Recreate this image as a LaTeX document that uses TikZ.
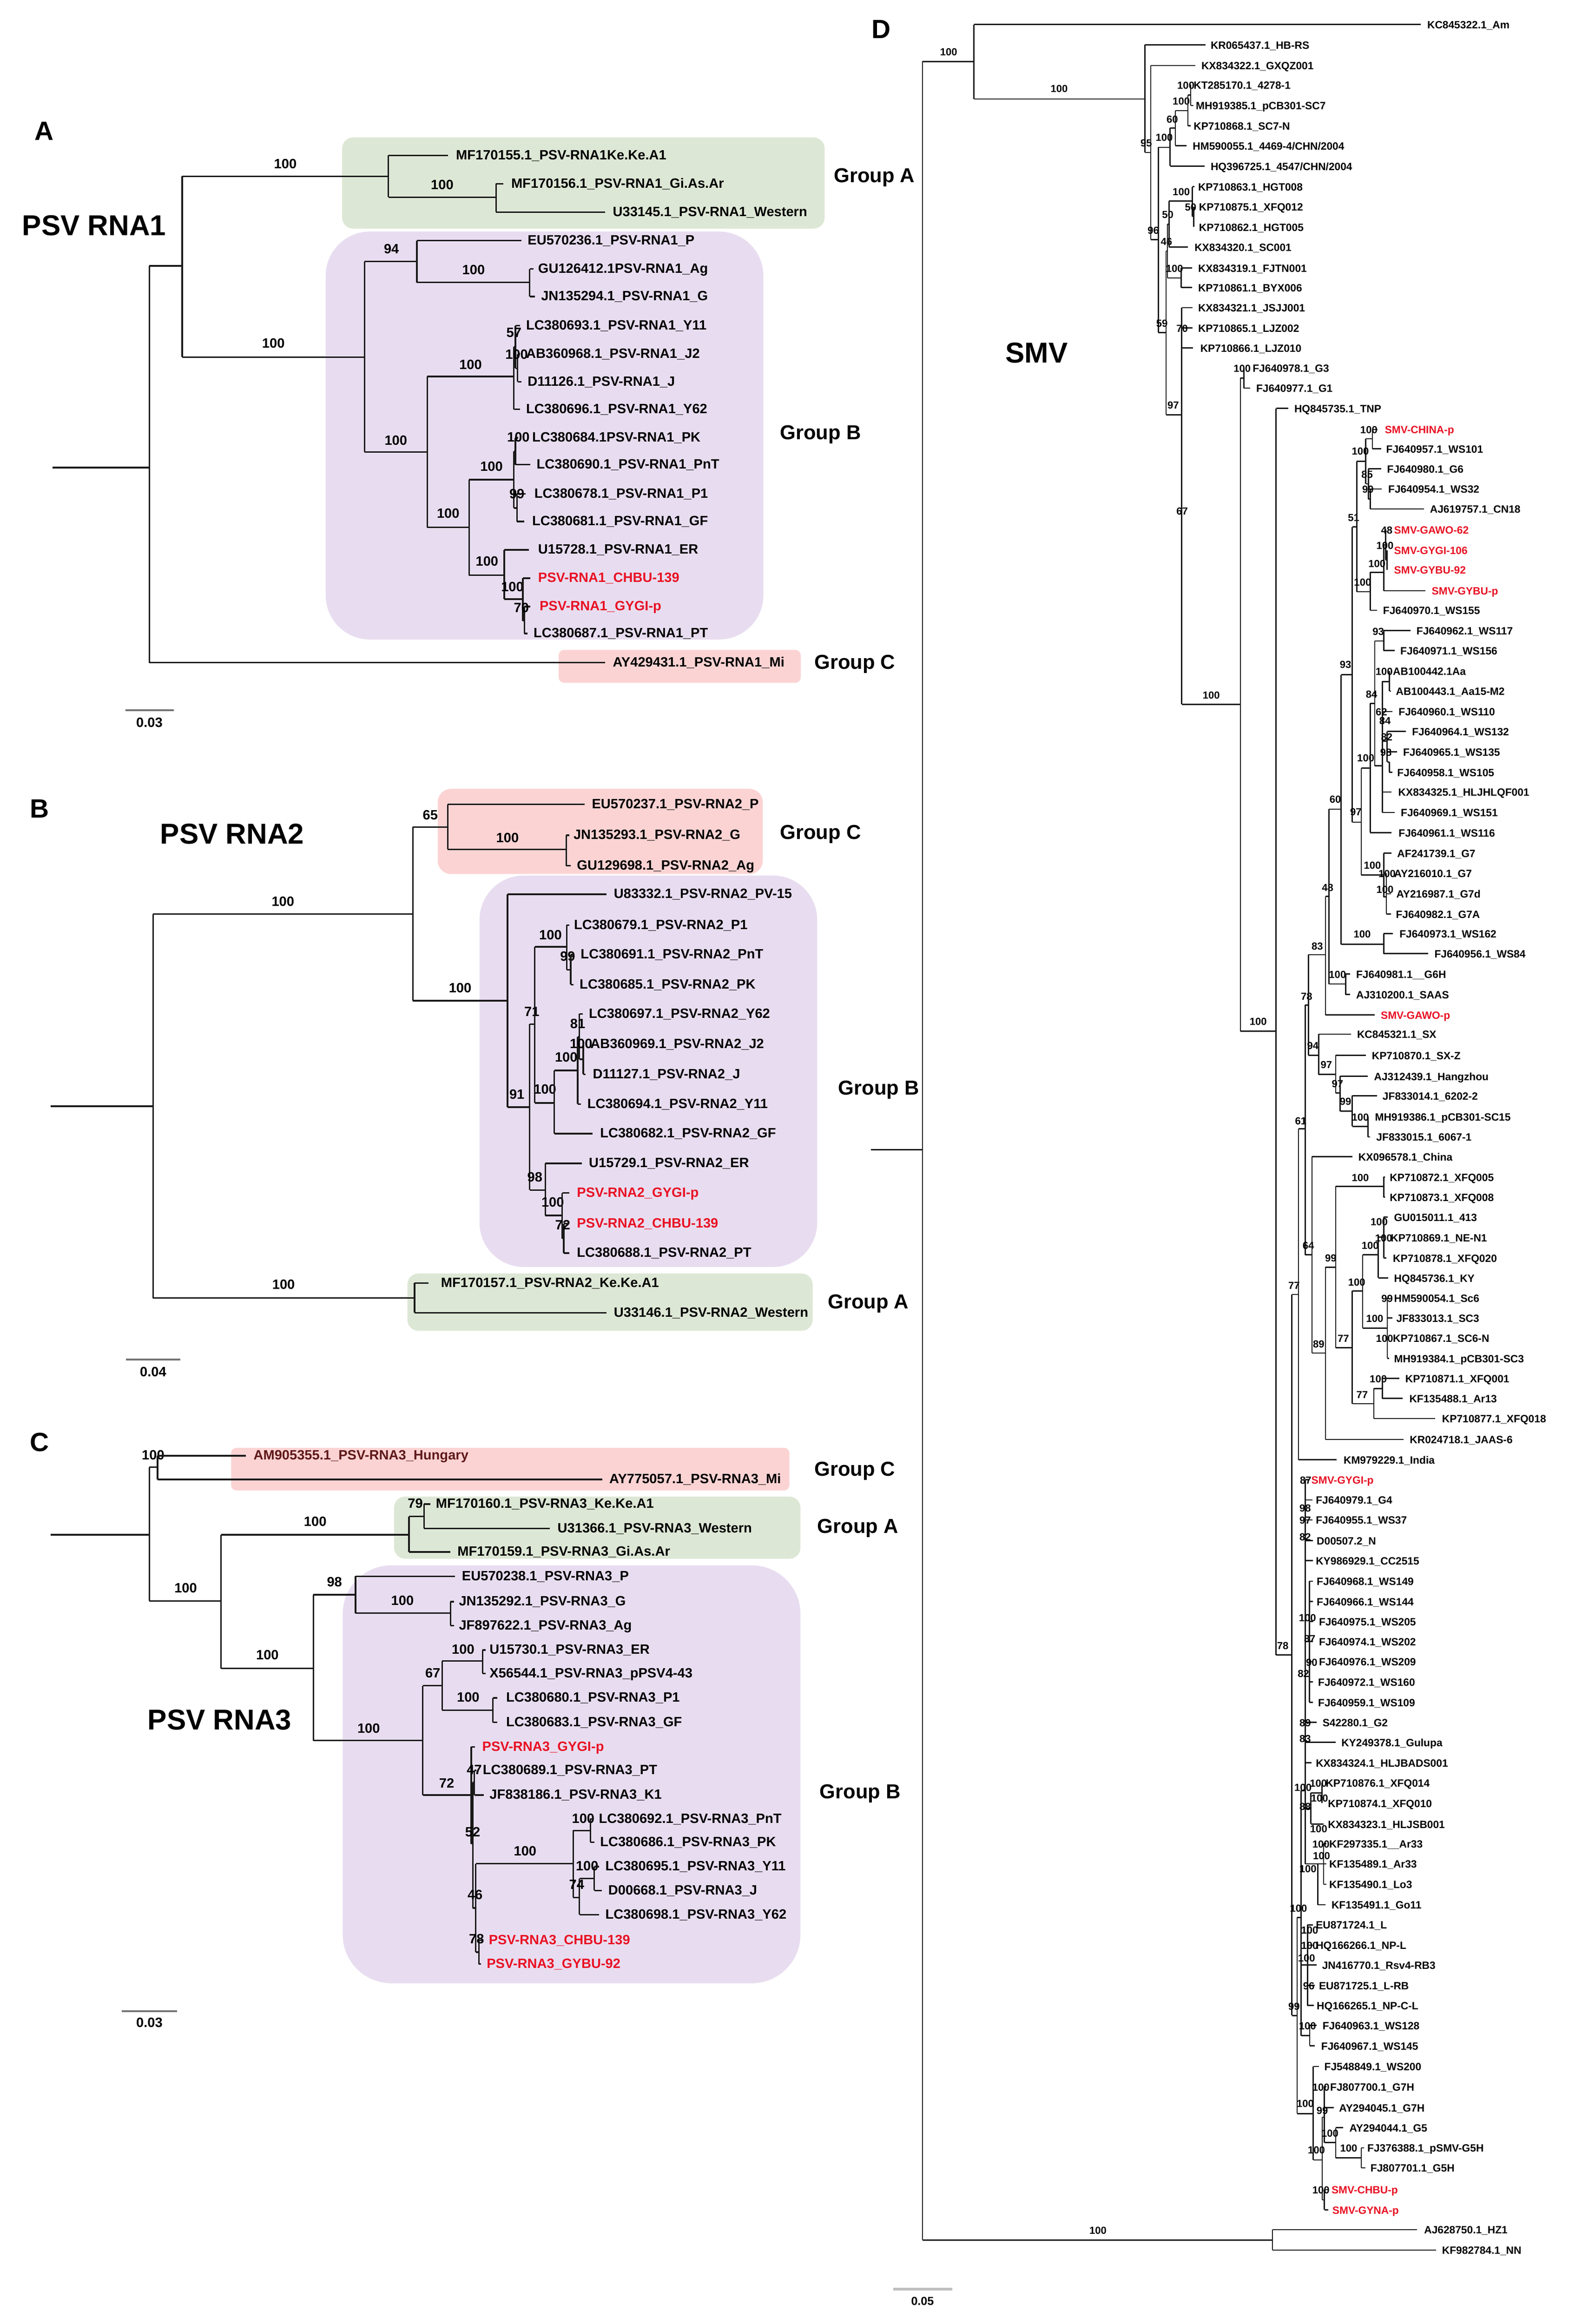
\documentclass[tikz,border=0pt]{standalone}
\usepackage{fontspec}
\setmainfont{Liberation Sans}
\definecolor{tred}{RGB}{232,18,36}
\definecolor{gbox}{RGB}{221,231,213}
\definecolor{pbox}{RGB}{232,221,240}
\definecolor{rbox}{RGB}{252,211,211}
\definecolor{lnc}{RGB}{25,25,25}
\newcounter{lfc}
\newcommand{\Vl}[3]{\draw[br] (#1,#2) -- (#1,#3);}
\newcommand{\Hl}[3]{\draw[br] (#1,#3) -- (#2,#3);}
\newcommand{\Lf}[6][]{\draw[br] (#2,#4) -- (#3,#4);\stepcounter{lfc}\node[lab,#1] (t\arabic{lfc}) at (#5,#4) {#6};}
\newcommand{\Tx}[4][]{\stepcounter{lfc}\node[lab,#1] (t\arabic{lfc}) at (#2,#3) {#4};}
\newcommand{\Bs}[3]{\stepcounter{lfc}\node[bsl] (b\arabic{lfc}) at (#1,#2) {#3};}
\begin{document}
\begin{tikzpicture}[x=0.03379cm,y=-0.03379cm,
  br/.style={line width=1pt,draw=lnc},
  lab/.style={inner sep=0pt,anchor=mid west,font=\fontsize{8.7}{10}\selectfont\bfseries},
  bsl/.style={inner sep=0pt,anchor=mid,font=\fontsize{8.7}{10}\selectfont\bfseries},
  plet/.style={inner sep=0pt,anchor=mid,font=\fontsize{17}{20}\selectfont\bfseries},
  ttl/.style={inner sep=0pt,anchor=mid,font=\fontsize{18.5}{22}\selectfont\bfseries},
  grp/.style={inner sep=0pt,anchor=mid west,font=\fontsize{13}{15}\selectfont\bfseries},
  sbar/.style={line width=1.2pt,draw=black!55},
  scl/.style={inner sep=0pt,anchor=mid,font=\fontsize{8.7}{10}\selectfont\bfseries}]
\fill[white] (0,0) rectangle (1050,1555.5);
\useasboundingbox (0,0) rectangle (1050,1555.5);
% ================= PANEL A =================
\begin{scope}
\fill[gbox,rounded corners=0.25cm] (229,92) rectangle (552,153);
\fill[pbox,rounded corners=1cm] (218,155) rectangle (511,428);
\fill[rbox,rounded corners=0.12cm] (374,435) rectangle (536,457);
\node[plet] (pA) at (29.6,91) {A};
\node[ttl] (tA) at (63,154.7) {PSV RNA1};
\node[grp] (gA1) at (558,119.5) {Group A};
\node[grp] (gA2) at (522,291.5) {Group B};
\node[grp] (gA3) at (545,445) {Group C};
\Hl{35}{100}{313}
\Vl{100}{178}{443.5}
\Hl{100}{122}{178}
\Vl{122}{118}{239}
\Hl{122}{260}{118} \Bs{191}{110}{100}
\Vl{260}{104}{132}
\Lf{260}{300}{104}{305}{MF170155.1\_PSV-RNA1Ke.Ke.A1}
\Hl{260}{332}{132} \Bs{296}{124}{100}
\Vl{332}{123}{142}
\Lf{332}{337}{123}{342}{MF170156.1\_PSV-RNA1\_Gi.As.Ar}
\Lf{332}{405}{142}{410}{U33145.1\_PSV-RNA1\_Western}
\Hl{122}{244}{239} \Bs{183}{230}{100}
\Vl{244}{175}{302.5}
\Hl{244}{279}{175} \Bs{262}{167}{94}
\Vl{279}{161}{189}
\Lf{279}{349}{161}{353}{EU570236.1\_PSV-RNA1\_P}
\Hl{279}{354.5}{189} \Bs{317}{181}{100}
\Vl{354.5}{180}{198.5}
\Lf{354.5}{357}{180}{360}{GU126412.1PSV-RNA1\_Ag}
\Lf{354.5}{358}{198.5}{362}{JN135294.1\_PSV-RNA1\_G}
\Hl{244}{286}{302.5} \Bs{265}{295}{100}
\Vl{286}{252}{353}
\Hl{286}{344}{252} \Bs{315}{244.5}{100}
\Vl{344}{232}{274}
\Hl{344}{345}{232}
\Vl{345}{218}{246.5}
\Hl{345}{346.5}{246.5}
\Vl{346.5}{237}{255.5}
\Lf{345}{348}{218}{352}{LC380693.1\_PSV-RNA1\_Y11} \Bs{344}{223}{57}
\Lf{346.5}{348}{237}{352}{AB360968.1\_PSV-RNA1\_J2} \Bs{345.8}{237.5}{100}
\Lf{346.5}{349}{255.5}{353}{D11126.1\_PSV-RNA1\_J}
\Lf{344}{348}{274}{352}{LC380696.1\_PSV-RNA1\_Y62}
\Hl{286}{314}{353} \Bs{300}{344}{100}
\Vl{314}{321}{385}
\Hl{314}{344}{321} \Bs{329}{312.7}{100}
\Vl{344}{302}{340}
\Hl{344}{345}{302}
\Vl{345}{293}{311}
\Lf{345}{347}{293}{356}{LC380684.1PSV-RNA1\_PK} \Bs{347}{293}{100}
\Lf{345}{355}{311}{359}{LC380690.1\_PSV-RNA1\_PnT}
\Hl{344}{346}{340}
\Vl{346}{330.5}{349}
\Lf{346}{352}{330.5}{357.5}{LC380678.1\_PSV-RNA1\_P1} \Bs{346}{331}{99}
\Lf{346}{351}{349}{356}{LC380681.1\_PSV-RNA1\_GF}
\Hl{314}{337.5}{385} \Bs{326}{376}{100}
\Vl{337.5}{368}{401}
\Lf{337.5}{354}{368}{360}{U15728.1\_PSV-RNA1\_ER}
\Hl{337.5}{350}{401} \Bs{343}{393}{100}
\Vl{350}{387}{415.5}
\Lf[text=tred]{350}{355}{387}{360}{PSV-RNA1\_CHBU-139}
\Hl{350}{351}{415.5}
\Vl{351}{406}{424}
\Lf[text=tred]{351}{355}{406}{361}{PSV-RNA1\_GYGI-p} \Bs{349}{407}{70}
\Lf{351}{353}{424}{357}{LC380687.1\_PSV-RNA1\_PT}
\Lf{100}{405}{443.5}{410}{AY429431.1\_PSV-RNA1\_Mi}
\draw[sbar] (84,475.5) -- (116.5,475.5);
\node[scl] (sA) at (100,484) {0.03};
\end{scope}
% ================= PANEL B =================
\begin{scope}
\fill[rbox,rounded corners=0.3cm] (293,528) rectangle (510.6,585);
\fill[pbox,rounded corners=1cm] (321,586) rectangle (547,848);
\fill[gbox,rounded corners=0.25cm] (272.7,852.4) rectangle (544,890.7);
\node[plet] (pB) at (26.6,544.5) {B};
\node[ttl] (tB) at (155.4,562) {PSV RNA2};
\node[grp] (gB1) at (522,559) {Group C};
\node[grp] (gB2) at (561,730) {Group B};
\node[grp] (gB3) at (554,873) {Group A};
\Hl{34}{102.5}{740.4}
\Vl{102.5}{611.8}{868.8}
\Hl{102.5}{276.4}{611.8} \Bs{189.4}{603.6}{100}
\Vl{276.4}{553.5}{669.8}
\Hl{276.4}{299.7}{553.5} \Bs{288}{546}{65}
\Vl{299.7}{538.4}{568.5}
\Lf{299.7}{391.5}{538.4}{396}{EU570237.1\_PSV-RNA2\_P}
\Hl{299.7}{379}{568.5} \Bs{339.7}{561}{100}
\Vl{379}{559}{579.5}
\Lf{379}{381}{559}{383.7}{JN135293.1\_PSV-RNA2\_G}
\Lf{379}{382}{579.5}{386}{GU129698.1\_PSV-RNA2\_Ag}
\Hl{276.4}{339.7}{669.8} \Bs{308}{661.6}{100}
\Vl{339.7}{598.6}{741}
\Lf{339.7}{406}{598.6}{410.7}{U83332.1\_PSV-RNA2\_PV-15}
\Hl{339.7}{354.5}{741} \Bs{346}{732.7}{91}
\Vl{354.5}{685.4}{796.5}
\Hl{354.5}{358}{685.4} \Bs{356}{677.5}{71}
\Vl{358}{633.7}{738.2}
\Hl{358}{379.3}{633.7} \Bs{368.5}{626}{100}
\Vl{379.3}{619.2}{649}
\Lf{379.3}{381}{619.2}{384}{LC380679.1\_PSV-RNA2\_P1}
\Hl{379.3}{382}{649} \Bs{380}{640.3}{99}
\Vl{382}{639}{659}
\Lf{382}{384}{639}{388.5}{LC380691.1\_PSV-RNA2\_PnT}
\Lf{382}{384}{659}{387.8}{LC380685.1\_PSV-RNA2\_PK}
\Hl{358}{371}{738.2} \Bs{364.8}{729.5}{100}
\Vl{371}{716.5}{758.8}
\Hl{371}{386.7}{716.5} \Bs{379}{708}{100}
\Vl{386.7}{694}{739}
\Hl{386.7}{387.8}{694}
\Vl{387.8}{678.6}{709}
\Lf{387.8}{390}{678.6}{394}{LC380697.1\_PSV-RNA2\_Y62} \Bs{386.7}{685.4}{81}
\Hl{387.8}{390.4}{709}
\Vl{390.4}{699}{719} \Bs{389}{699}{100}
\Lf{390.4}{391}{699}{395}{AB360969.1\_PSV-RNA2\_J2}
\Lf{390.4}{392}{719}{396.6}{D11127.1\_PSV-RNA2\_J}
\Lf{386.7}{389}{739}{393}{LC380694.1\_PSV-RNA2\_Y11}
\Lf{371}{396.6}{758.8}{401.5}{LC380682.1\_PSV-RNA2\_GF}
\Hl{354.5}{365}{796.5} \Bs{358}{788.3}{98}
\Vl{365}{778.7}{813.5}
\Lf{365}{389.6}{778.7}{394}{U15729.1\_PSV-RNA2\_ER}
\Hl{365}{376.3}{813.5} \Bs{370}{805}{100}
\Vl{376.3}{798.5}{829}
\Lf[text=tred]{376.3}{381}{798.5}{386}{PSV-RNA2\_GYGI-p}
\Hl{376.3}{377.4}{829}
\Vl{377.4}{819}{838.7} \Bs{376.7}{820.3}{72}
\Lf[text=tred]{377.4}{381}{819}{386}{PSV-RNA2\_CHBU-139}
\Lf{377.4}{381}{838.7}{386}{LC380688.1\_PSV-RNA2\_PT}
\Hl{102.5}{277.5}{868.8} \Bs{189.8}{860}{100}
\Vl{277.5}{858.7}{878.6}
\Lf{277.5}{286.8}{858.7}{295}{MF170157.1\_PSV-RNA2\_Ke.Ke.A1}
\Lf{277.5}{406}{878.6}{410.7}{U33146.1\_PSV-RNA2\_Western}
\draw[sbar] (84.4,910) -- (120.6,910);
\node[scl] (sB) at (102.5,918.5) {0.04};
\end{scope}
% ================= PANEL C =================
\begin{scope}
\fill[rbox,rounded corners=0.12cm] (154.7,969) rectangle (528.4,997.6);
\fill[gbox,rounded corners=0.25cm] (263.8,1001.7) rectangle (535.8,1043.3);
\fill[pbox,rounded corners=1.1cm] (229.4,1047.7) rectangle (535.8,1327.4);
\node[plet] (pC) at (26.6,968.5) {C};
\node[ttl] (tC) at (147,1155) {PSV RNA3};
\node[grp] (gC1) at (545,985) {Group C};
\node[grp] (gC2) at (547,1023.5) {Group A};
\node[grp] (gC3) at (548.5,1201) {Group B};
\Hl{34}{100}{1027.2}
\Vl{100}{982}{1071.5}
\Hl{100}{105.5}{982} \Bs{102.5}{974.4}{100}
\Vl{105.5}{974.4}{990.2}
\Lf[text={rgb,255:red,95;green,25;blue,25}]{105.5}{164.7}{974.4}{169.5}{AM905355.1\_PSV-RNA3\_Hungary}
\Lf{105.5}{403.3}{990.2}{407.7}{AY775057.1\_PSV-RNA3\_Mi}
\Hl{100}{148}{1071.5} \Bs{124.3}{1063.3}{100}
\Vl{148}{1027.2}{1116.7}
\Hl{148}{273.8}{1027.2} \Bs{211}{1018.7}{100}
\Vl{273.8}{1015}{1038.7}
\Hl{273.8}{283.8}{1015} \Bs{278}{1006.7}{79}
\Vl{283.8}{1006.7}{1023}
\Lf{283.8}{288}{1006.7}{291.6}{MF170160.1\_PSV-RNA3\_Ke.Ke.A1}
\Lf{283.8}{368}{1023}{373}{U31366.1\_PSV-RNA3\_Western}
\Lf{273.8}{301.6}{1038.7}{306}{MF170159.1\_PSV-RNA3\_Gi.As.Ar}
\Hl{148}{209.8}{1116.7} \Bs{179}{1108}{100}
\Vl{209.8}{1067.4}{1165}
\Hl{209.8}{238}{1067.4} \Bs{223.9}{1059.2}{98}
\Vl{238}{1055}{1079.7}
\Lf{238}{304.5}{1055}{309}{EU570238.1\_PSV-RNA3\_P}
\Hl{238}{301.6}{1079.7} \Bs{269.4}{1071.5}{100}
\Vl{301.6}{1072}{1088}
\Lf{301.6}{304}{1072}{307}{JN135292.1\_PSV-RNA3\_G}
\Lf{301.6}{304}{1088}{307}{JF897622.1\_PSV-RNA3\_Ag}
\Hl{209.8}{283}{1165} \Bs{246.8}{1157.2}{100}
\Vl{283}{1128.2}{1201.5}
\Hl{283}{296}{1128.2} \Bs{289.7}{1120}{67}
\Vl{296}{1111.8}{1144.6}
\Hl{296}{323}{1111.8} \Bs{310}{1104.4}{100}
\Vl{323}{1104.4}{1120}
\Lf{323}{325}{1104.4}{327.5}{U15730.1\_PSV-RNA3\_ER}
\Lf{323}{325}{1120}{327.5}{X56544.1\_PSV-RNA3\_pPSV4-43}
\Hl{296}{330}{1144.6} \Bs{313.4}{1136.4}{100}
\Vl{330}{1136.4}{1152.8}
\Lf{330}{333}{1136.4}{338.6}{LC380680.1\_PSV-RNA3\_P1}
\Lf{330}{333}{1152.8}{338.6}{LC380683.1\_PSV-RNA3\_GF}
\Hl{283}{315.5}{1201.5} \Bs{299}{1193.9}{72}
\Vl{315.5}{1169.2}{1234}
\Lf[text=tred]{315.5}{318}{1169.2}{322.6}{PSV-RNA3\_GYGI-p}
\Hl{315.5}{316.5}{1234}
\Vl{316.5}{1193}{1277}
\Hl{316.5}{317.5}{1193}
\Vl{317.5}{1185}{1201.5} \Bs{317.5}{1185}{47}
\Lf{317.5}{319}{1185}{323}{LC380689.1\_PSV-RNA3\_PT}
\Lf{317.5}{323.8}{1201.5}{327.5}{JF838186.1\_PSV-RNA3\_K1}
\Bs{316.4}{1226.7}{52}
\Hl{316.5}{318.5}{1277}
\Vl{318.5}{1247.4}{1306.6} \Bs{318}{1268.6}{46}
\Hl{318.5}{383.7}{1247.4} \Bs{351.5}{1239.3}{100}
\Vl{383.7}{1225.2}{1270}
\Hl{383.7}{395.2}{1225.2} \Bs{390.4}{1217.4}{100}
\Vl{395.2}{1217.4}{1233}
\Lf{395.2}{397}{1217.4}{400.7}{LC380692.1\_PSV-RNA3\_PnT}
\Lf{395.2}{398}{1233}{401.5}{LC380686.1\_PSV-RNA3\_PK}
\Hl{383.7}{387.8}{1270}
\Vl{387.8}{1257.3}{1281.5} \Bs{386}{1261.8}{74}
\Hl{387.8}{397.8}{1257.3}
\Vl{397.8}{1249.4}{1265.3} \Bs{393}{1249.4}{100}
\Lf{397.8}{401}{1249.4}{405}{LC380695.1\_PSV-RNA3\_Y11}
\Lf{397.8}{403}{1265.3}{407}{D00668.1\_PSV-RNA3\_J}
\Lf{387.8}{401}{1281.5}{405}{LC380698.1\_PSV-RNA3\_Y62}
\Hl{318.5}{320.5}{1306.6}
\Vl{320.5}{1298.7}{1314.6} \Bs{319}{1298}{78}
\Lf[text=tred]{320.5}{323}{1298.7}{327}{PSV-RNA3\_CHBU-139}
\Lf[text=tred]{320.5}{322}{1314.6}{325.6}{PSV-RNA3\_GYBU-92}
\draw[sbar] (81.4,1346) -- (118.4,1346);
\node[scl] (sC) at (100,1354) {0.03};
\end{scope}
% ================= PANEL D =================
\begin{scope}[
  br/.style={line width=0.8pt,draw=lnc},
  lab/.style={inner sep=0pt,anchor=mid west,font=\fontsize{6.8}{8}\selectfont\bfseries},
  bsl/.style={inner sep=0pt,anchor=mid,font=\fontsize{6.6}{8}\selectfont\bfseries}]
\node[plet] (pD) at (590,23) {D};
\node[ttl] (tD) at (693.9,240) {SMV};
\Hl{583}{617.5}{769.4}
\Vl{617.5}{41.2}{1499.3}
\Hl{617.5}{652}{41.2} \Bs{635}{34.5}{100}
\Vl{652}{16.4}{66.3}
\Lf{652}{951}{16.4}{955.2}{KC845322.1\_Am}
\Hl{652}{766.4}{66.3} \Bs{709}{59}{100}
\Vl{766.4}{30}{102}
\Lf{766.4}{807}{30}{810.2}{KR065437.1\_HB-RS}
\Hl{766.4}{770.3}{102} \Bs{767.3}{95.4}{95}
\Vl{770.3}{43.9}{160.3}
\Lf{770.3}{800}{43.9}{804}{KX834322.1\_GXQZ001}
\Hl{770.3}{775.4}{160.3} \Bs{772}{154}{96}
\Vl{775.4}{98.6}{222.5}
\Hl{775.4}{783.2}{98.6} \Bs{779.3}{91.8}{100}
\Vl{783.2}{85.7}{111.2}
\Lf{783.2}{806.3}{111.2}{810.2}{HQ396725.1\_4547/CHN/2004}
\Hl{783.2}{786.8}{85.7} \Bs{784.7}{79.6}{60}
\Vl{786.8}{74}{97.5}
\Lf{786.8}{794.3}{97.5}{798.2}{HM590055.1\_4469-4/CHN/2004}
\Hl{786.8}{795.2}{74} \Bs{790.7}{67.3}{100}
\Vl{795.2}{63.7}{84.2}
\Lf{795.2}{797}{84.2}{798.8}{KP710868.1\_SC7-N}
\Hl{795.2}{797}{63.7}
\Vl{797}{56.7}{70.6}
\Tx{798.8}{56.7}{KT285170.1\_4278-1} \Bs{793.8}{56.7}{100}
\Lf{797}{799}{70.6}{800.3}{MH919385.1\_pCB301-SC7}
\Hl{775.4}{780.5}{222.5} \Bs{777.8}{216}{59}
\Vl{780.5}{168}{277.6}
\Hl{780.5}{781.5}{168} \Bs{780.8}{161.2}{46}
\Vl{781.5}{150}{186}
\Hl{781.5}{782.5}{150} \Bs{781.7}{143.3}{50}
\Vl{782.5}{134.6}{165.3}
\Lf{782.5}{795.2}{165.3}{799.4}{KX834320.1\_SC001}
\Hl{782.5}{798.2}{134.6} \Bs{790.7}{128}{100}
\Vl{798.2}{125}{145}
\Lf{798.2}{799.5}{125}{801.8}{KP710863.1\_HGT008}
\Hl{798.2}{799}{145}
\Vl{799}{138.4}{151.9} \Bs{797}{138.4}{50}
\Tx{802.4}{138.4}{KP710875.1\_XFQ012}
\Tx{802.4}{151.9}{KP710862.1\_HGT005}
\Hl{781.5}{790.7}{186}
\Vl{790.7}{179.3}{192.5} \Bs{786.2}{179.3}{100}
\Lf{790.7}{798}{179.3}{801.8}{KX834319.1\_FJTN001}
\Lf{790.7}{798}{192.5}{801.8}{KP710861.1\_BYX006}
\Hl{780.5}{791}{277.6} \Bs{785.3}{271}{97}
\Vl{791}{205.9}{471.4}
\Lf{791}{798.2}{205.9}{801.8}{KX834321.1\_JSJJ001}
\Lf{791}{798.2}{219.4}{801.8}{KP710865.1\_LJZ002} \Bs{791.3}{219.4}{70}
\Lf{791}{798.5}{232.8}{803.3}{KP710866.1\_LJZ010}
\Bs{791.3}{341.9}{67}
\Hl{791}{830.3}{471.4} \Bs{810.8}{465}{100}
\Vl{830.3}{253}{690.2}
\Hl{830.3}{832.6}{253}
\Vl{832.6}{246.3}{259.8}
\Tx{838.3}{246.3}{FJ640978.1\_G3} \Bs{831.5}{246.3}{100}
\Lf{832.6}{837}{259.8}{840.7}{FJ640977.1\_G1}
\Hl{830.3}{854.2}{690.2} \Bs{842.2}{683.5}{100}
\Vl{854.2}{273.4}{1107.7}
\Lf{854.2}{862.3}{273.4}{866.2}{HQ845735.1\_TNP}
\Hl{854.2}{864.7}{1107.7} \Bs{858.7}{1101.3}{78}
\Vl{864.7}{866.4}{1349}
\Hl{864.7}{869.2}{866.4} \Bs{866.2}{860}{77}
\Vl{869.2}{755.6}{977}
\Lf{869.2}{894.7}{977}{899.2}{KM979229.1\_India}
\Hl{869.2}{873.7}{755.6} \Bs{870.7}{749.8}{61}
\Vl{873.7}{672.7}{839.9}
\Hl{873.7}{875.8}{672.7} \Bs{874.6}{666.5}{78}
\Vl{875.8}{639}{706.3}
\Hl{875.8}{887.2}{639} \Bs{881.8}{633}{83}
\Vl{887.2}{600}{679.3}
\Lf[text=tred]{887.2}{920.2}{679.3}{924.1}{SMV-GAWO-p}
\Hl{887.2}{889.5}{600} \Bs{888.7}{593.9}{48}
\Vl{889.5}{541.6}{658.6}
\Hl{889.5}{900.7}{658.6} \Bs{895.3}{651.8}{100}
\Vl{900.7}{651.8}{665.6}
\Lf{900.7}{903.7}{651.8}{907.6}{FJ640981.1\_\_G6H}
\Lf{900.7}{903.7}{665.6}{907.6}{AJ310200.1\_SAAS}
\Hl{889.5}{897.7}{541.6} \Bs{893.8}{534.8}{60}
\Vl{897.7}{451.6}{632}
\Hl{897.7}{926.2}{632} \Bs{911.8}{624.9}{100}
\Vl{926.2}{624.9}{638.3}
\Lf{926.2}{932.2}{624.9}{936.6}{FJ640973.1\_WS162}
\Lf{926.2}{956.1}{638.3}{960}{FJ640956.1\_WS84}
\Hl{897.7}{905.2}{451.6} \Bs{900.7}{444.5}{93}
\Vl{905.2}{352.7}{550.3}
\Hl{905.2}{908.2}{352.7} \Bs{906.1}{346}{51}
\Vl{908.2}{308.8}{396}
\Hl{908.2}{914.2}{308.8}
\Vl{914.2}{293.7}{323.9}
\Hl{914.2}{918.7}{293.7} \Bs{910.6}{301.8}{100}
\Vl{918.7}{287.5}{300.4}
\Lf[text=tred]{918.7}{922}{287.5}{926.8}{SMV-CHINA-p} \Bs{916.3}{287.5}{100}
\Lf{918.7}{924.7}{300.4}{927.7}{FJ640957.1\_WS101}
\Hl{914.2}{916}{323.9}
\Vl{916}{313.8}{334}
\Lf{916}{924.5}{313.8}{928.3}{FJ640980.1\_G6} \Bs{915.1}{317.3}{85}
\Hl{916}{917.2}{334}
\Vl{917.2}{327.3}{340.7}
\Lf{917.2}{925}{327.3}{929.1}{FJ640954.1\_WS32} \Bs{915.7}{327.3}{99}
\Lf{917.2}{953.1}{340.7}{957}{AJ619757.1\_CN18}
\Hl{908.2}{917.2}{396} \Bs{912.1}{389.5}{100}
\Vl{917.2}{383.1}{408.5}
\Lf{917.2}{921.7}{408.5}{925.6}{FJ640970.1\_WS155}
\Hl{917.2}{926.2}{383.1}
\Vl{926.2}{364.6}{395.4}
\Lf[text=tred]{926.2}{954}{395.4}{958.2}{SMV-GYBU-p}
\Hl{926.2}{927.5}{364.6}
\Vl{927.5}{354.4}{374.7}
\Tx[text=tred]{933}{354.4}{SMV-GAWO-62} \Bs{928.3}{354.4}{48}
\Hl{927.5}{928.5}{374.7}
\Vl{928.5}{368.2}{381.3}
\Tx[text=tred]{933}{368.2}{SMV-GYGI-106} \Bs{927.1}{364.7}{100}
\Tx[text=tred]{933}{381.3}{SMV-GYBU-92} \Bs{921.7}{376.9}{100}
\Hl{905.2}{911.2}{550.3} \Bs{907.6}{543}{97}
\Vl{911.2}{514.1}{585.7}
\Hl{911.2}{917.2}{514.1} \Bs{914.2}{507.1}{100}
\Vl{917.2}{470.8}{557.3}
\Lf{917.2}{931.3}{557.3}{936}{FJ640961.1\_WS116}
\Hl{917.2}{920.2}{470.8} \Bs{918.1}{464.4}{84}
\Vl{920.2}{429}{512.6}
\Hl{920.2}{926.2}{429} \Bs{922.6}{422.3}{93}
\Vl{926.2}{421.9}{435.4}
\Lf{926.2}{944.2}{421.9}{948}{FJ640962.1\_WS117}
\Lf{926.2}{933.6}{435.4}{937.2}{FJ640971.1\_WS156}
\Hl{920.2}{925.3}{512.6}
\Vl{925.3}{456.2}{543.8}
\Hl{925.3}{930.1}{456.2}
\Vl{930.1}{449.2}{462.6}
\Tx{932.2}{449.2}{AB100442.1Aa} \Bs{926.5}{449.2}{100}
\Lf{930.1}{931}{462.6}{934.2}{AB100443.1\_Aa15-M2}
\Bs{927.1}{482}{84}
\Lf{925.3}{932}{476.3}{936}{FJ640960.1\_WS110} \Bs{924.7}{476.3}{62}
\Hl{925.3}{928.5}{496}
\Vl{928.5}{489.6}{510}
\Lf{928.5}{941.1}{489.6}{945}{FJ640964.1\_WS132} \Bs{928.3}{493}{82}
\Lf{928.5}{935}{503.2}{939}{FJ640965.1\_WS135} \Bs{927.7}{503.2}{98}
\Hl{928.5}{930}{510}
\Vl{930}{510}{516.8}
\Lf{930}{932}{516.8}{935.1}{FJ640958.1\_WS105}
\Lf{925.3}{931.3}{530.1}{935.8}{KX834325.1\_HLJHLQF001}
\Lf{925.3}{933.6}{543.8}{937.5}{FJ640969.1\_WS151}
\Hl{911.2}{926.2}{585.7} \Bs{918.7}{578.7}{100}
\Vl{926.2}{571.1}{600.3}
\Lf{926.2}{931.3}{571.1}{935.1}{AF241739.1\_G7}
\Hl{926.2}{928}{600.3}
\Vl{928}{584.5}{611.7}
\Tx{933}{584.5}{AY216010.1\_G7} \Bs{928.5}{584.5}{100}
\Lf{928}{931}{598.2}{934.5}{AY216987.1\_G7d} \Bs{927.1}{595}{100}
\Lf{928}{931}{611.7}{934.2}{FJ640982.1\_G7A}
% SX clade
\Hl{875.8}{882.7}{706.3} \Bs{878.8}{699.5}{94}
\Vl{882.7}{692.2}{719.1}
\Lf{882.7}{904.3}{692.2}{908.2}{KC845321.1\_SX}
\Hl{882.7}{894.1}{719.1} \Bs{887.8}{712.3}{97}
\Vl{894.1}{706.3}{731.6}
\Lf{894.1}{914.2}{706.3}{918.1}{KP710870.1\_SX-Z}
\Hl{894.1}{897.1}{731.6} \Bs{895.3}{725.2}{97}
\Vl{897.1}{720.3}{743.7}
\Lf{897.1}{915.7}{720.3}{919.6}{AJ312439.1\_Hangzhou}
\Hl{897.1}{905.2}{743.7} \Bs{900.7}{736.9}{99}
\Vl{905.2}{733.4}{753.9}
\Lf{905.2}{921.7}{733.4}{925.3}{JF833014.1\_6202-2}
\Hl{905.2}{915.7}{753.9} \Bs{910.6}{747.4}{100}
\Vl{915.7}{747.4}{760.9}
\Tx{920.2}{747.4}{MH919386.1\_pCB301-SC15}
\Lf{915.7}{917}{760.9}{921.1}{JF833015.1\_6067-1}
% China / XFQ clade
\Hl{873.7}{878.2}{839.9} \Bs{875.8}{833.4}{64}
\Vl{878.2}{774.1}{905.6}
\Lf{878.2}{905.2}{774.1}{909.1}{KX096578.1\_China}
\Hl{878.2}{887.2}{905.6} \Bs{882.7}{899.2}{89}
\Vl{887.2}{848.1}{963.5}
\Lf{887.2}{939.6}{963.5}{943.5}{KR024718.1\_JAAS-6}
\Hl{887.2}{894.1}{848.1} \Bs{890.8}{841.6}{99}
\Vl{894.1}{794}{902.1}
\Hl{894.1}{926.2}{794} \Bs{910.6}{787.8}{100}
\Vl{926.2}{787.8}{801.3}
\Lf{926.2}{927}{787.8}{930.1}{KP710872.1\_XFQ005}
\Lf{926.2}{927}{801.3}{930.1}{KP710873.1\_XFQ008}
\Hl{894.1}{905.2}{902.1} \Bs{899.2}{895.6}{77}
\Vl{905.2}{864}{939.5}
\Hl{905.2}{912.1}{864} \Bs{908.2}{858}{100}
\Vl{912.1}{839.9}{888.9}
\Hl{912.1}{922.6}{839.9} \Bs{917.2}{833.4}{100}
\Vl{922.6}{828}{855.3}
\Hl{922.6}{926.2}{828}
\Vl{926.2}{814.7}{841.9}
\Lf{926.2}{929}{814.7}{933}{GU015011.1\_413} \Bs{923.2}{817.6}{100}
\Tx{930.7}{828.4}{KP710869.1\_NE-N1} \Bs{926.2}{828.4}{100}
\Lf{926.2}{928}{841.9}{932.2}{KP710878.1\_XFQ020}
\Lf{922.6}{929.1}{855.3}{933}{HQ845736.1\_KY}
\Hl{912.1}{928.6}{888.9} \Bs{920.2}{882.2}{100}
\Vl{928.6}{868.7}{909.1}
\Tx{933}{868.7}{HM590054.1\_Sc6} \Bs{928.5}{868.7}{99}
\Lf{928.6}{932}{882.2}{934.5}{JF833013.1\_SC3}
\Tx{932.2}{895.6}{KP710867.1\_SC6-N} \Bs{926.8}{895.6}{100}
\Lf{928.6}{930}{909.1}{933}{MH919384.1\_pCB301-SC3}
\Hl{905.2}{919.6}{939.5} \Bs{911.8}{933.1}{77}
\Vl{919.6}{929.3}{949.5}
\Hl{919.6}{925.3}{929.3} \Bs{922.6}{922.6}{100}
\Vl{925.3}{922.6}{936}
\Lf{925.3}{936.6}{922.6}{940.5}{KP710871.1\_XFQ001}
\Lf{925.3}{939}{936}{943.2}{KF135488.1\_Ar13}
\Lf{919.6}{960.6}{949.5}{965.1}{KP710877.1\_XFQ018}
% lower part
\Hl{864.7}{868.3}{1349} \Bs{866.2}{1342.5}{99}
\Vl{868.3}{1283.4}{1414.7}
\Hl{868.3}{871}{1283.4} \Bs{869.2}{1277}{100}
\Vl{871}{1198.4}{1362.5}
\Hl{871}{873.7}{1198.4} \Bs{872.2}{1196}{100}
\Vl{873.7}{990.4}{1247.5}
\Lf[text=tred]{873.7}{876}{990.4}{877.6}{SMV-GYGI-p} \Bs{874}{990.4}{87}
\Lf{873.7}{878.5}{1003.9}{880.6}{FJ640979.1\_G4}
\Bs{873.7}{1009.1}{98}
\Lf{873.7}{878.5}{1017.3}{880.6}{FJ640955.1\_WS37} \Bs{873.7}{1017.3}{97}
\Lf{873.7}{879}{1031.1}{881.2}{D00507.2\_N} \Bs{873.7}{1028.4}{82}
\Lf{873.7}{879}{1044.5}{880.6}{KY986929.1\_CC2515}
\Hl{873.7}{876.5}{1098.7}
\Vl{876.5}{1058.3}{1139.3}
\Lf{876.5}{879}{1058.3}{881.2}{FJ640968.1\_WS149}
\Lf{876.5}{879}{1071.8}{881.2}{FJ640966.1\_WS144}
\Lf{876.5}{879}{1085.2}{882.7}{FJ640975.1\_WS205} \Bs{875.2}{1082.6}{100}
\Lf{876.5}{879}{1098.7}{882.7}{FJ640974.1\_WS202} \Bs{876.7}{1096.6}{87}
\Lf{876.5}{879}{1112.2}{882.7}{FJ640976.1\_WS209} \Bs{878}{1112.5}{90}
\Bs{872.5}{1119.8}{82}
\Lf{876.5}{879}{1125.8}{882.1}{FJ640972.1\_WS160}
\Lf{876.5}{879}{1139.3}{882.1}{FJ640959.1\_WS109}
\Lf{873.7}{881.2}{1152.8}{885.1}{S42280.1\_G2} \Bs{873.7}{1152.8}{89}
\Lf{873.7}{894.1}{1166.2}{897.7}{KY249378.1\_Gulupa} \Bs{873.7}{1163.3}{83}
\Lf{873.7}{878}{1179.9}{880.6}{KX834324.1\_HLJBADS001}
\Hl{873.7}{877.5}{1210.4} \Bs{873.7}{1208.9}{88}
\Vl{877.5}{1200}{1220.8}
\Hl{877.5}{885}{1200}
\Vl{885}{1193.3}{1206.8}
\Tx{887.2}{1193.3}{KP710876.1\_XFQ014} \Bs{882.5}{1193.3}{100}
\Tx{888.7}{1206.8}{KP710874.1\_XFQ010} \Bs{883.3}{1203.1}{100}
\Lf{877.5}{886}{1220.8}{888.7}{KX834323.1\_HLJSB001} \Bs{882.7}{1223.7}{100}
\Hl{873.7}{882.1}{1247.5} \Bs{875.5}{1250.5}{100}
\Vl{882.1}{1247.5}{1274.9}
\Hl{882.1}{886}{1247.5}
\Vl{886}{1234}{1261.2}
\Lf{886}{888}{1234}{889.6}{KF297335.1\_\_Ar33} \Bs{884.2}{1234}{100}
\Lf{886}{888}{1247.5}{889.6}{KF135489.1\_Ar33} \Bs{884.6}{1241.8}{100}
\Lf{886}{888}{1261.2}{889.6}{KF135490.1\_Lo3}
\Lf{882.1}{887.2}{1274.9}{891.1}{KF135491.1\_Go11}
\Hl{871}{875.2}{1315.2}
\Vl{875.2}{1288.3}{1342.3}
\Lf{875.2}{879}{1288.3}{880.6}{EU871724.1\_L} \Bs{876.7}{1291.6}{100}
\Lf{875.2}{879}{1301.9}{880.6}{HQ166266.1\_NP-L} \Bs{876.7}{1301.9}{100}
\Lf{875.2}{881.2}{1315.2}{884.8}{JN416770.1\_Rsv4-RB3} \Bs{874.6}{1310.3}{100}
\Lf{875.2}{880}{1328.8}{882.7}{EU871725.1\_L-RB} \Bs{876.1}{1328.8}{96}
\Lf{875.2}{879.5}{1342.3}{881.2}{HQ166265.1\_NP-C-L}
\Hl{871}{876.7}{1362.5}
\Vl{876.7}{1355.7}{1369.2}
\Lf{876.7}{881.2}{1355.7}{885.1}{FJ640963.1\_WS128} \Bs{875.2}{1355.7}{100}
\Lf{876.7}{880}{1369.2}{884.2}{FJ640967.1\_WS145}
\Hl{868.3}{879.1}{1414.7} \Bs{873.7}{1407.7}{100}
\Vl{879.1}{1383.1}{1445.7}
\Lf{879.1}{883}{1383.1}{886.3}{FJ548849.1\_WS200}
\Hl{879.1}{885.1}{1445.7} \Bs{881.2}{1438.7}{100}
\Vl{885.1}{1417}{1472.4}
\Hl{885.1}{886.5}{1417}
\Vl{886.5}{1396.6}{1434}
\Lf{886.5}{888}{1396.6}{890.2}{FJ807700.1\_G7H} \Bs{884.2}{1396.6}{100}
\Lf{886.5}{893}{1410.6}{896.2}{AY294045.1\_G7H} \Bs{885.1}{1412.4}{99}
\Hl{886.5}{894.1}{1434} \Bs{890.2}{1427.6}{100}
\Vl{894.1}{1424.1}{1444.3}
\Lf{894.1}{899.2}{1424.1}{903.1}{AY294044.1\_G5}
\Hl{894.1}{911.2}{1444.3} \Bs{902.8}{1437.6}{100}
\Vl{911.2}{1437.6}{1451}
\Lf{911.2}{913}{1437.6}{915.1}{FJ376388.1\_pSMV-G5H}
\Lf{911.2}{914}{1451}{917.2}{FJ807701.1\_G5H}
\Hl{885.1}{886.5}{1472.4}
\Vl{886.5}{1465.6}{1479.1}
\Lf[text=tred]{886.5}{889}{1465.6}{891.1}{SMV-CHBU-p} \Bs{884.2}{1465.6}{100}
\Lf[text=tred]{886.5}{889}{1479.1}{891.7}{SMV-GYNA-p}
\Hl{617.5}{851.8}{1499.3} \Bs{735}{1492.5}{100}
\Vl{851.8}{1492.3}{1506}
\Lf{851.8}{948.6}{1492.3}{953.1}{AJ628750.1\_HZ1}
\Lf{851.8}{961.2}{1506}{965.1}{KF982784.1\_NN}
\draw[line width=1.6pt,draw=black!25] (598,1532.1) -- (637.5,1532.1);
\node[inner sep=0pt,anchor=mid,font=\fontsize{7.5}{9}\selectfont\bfseries] (sD) at (617.5,1540) {0.05};
\end{scope}
\end{tikzpicture}
\end{document}
